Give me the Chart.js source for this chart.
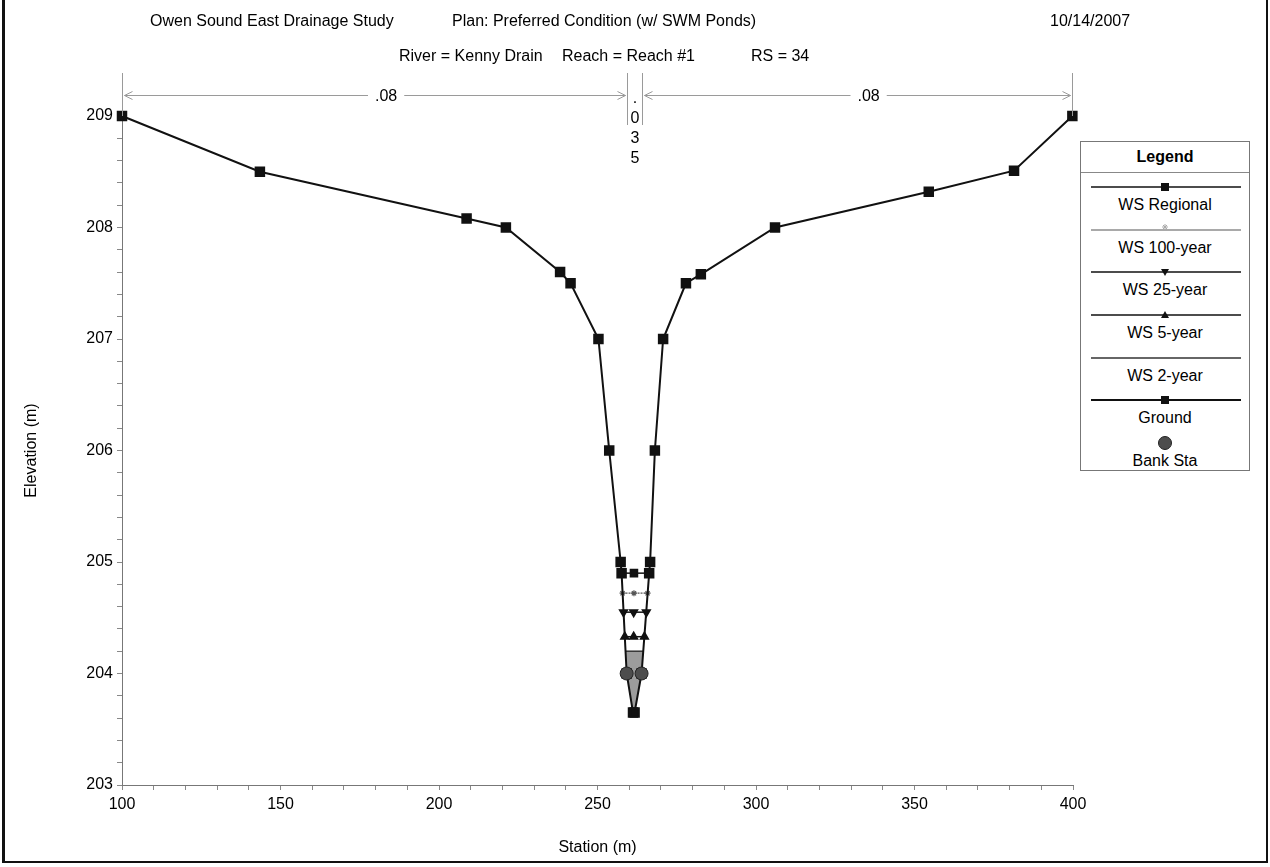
<!DOCTYPE html>
<html>
<head>
<meta charset="utf-8">
<title>Kenny Drain RS 34</title>
<script src="https://cdn.jsdelivr.net/npm/chart.js@4.4.1/dist/chart.umd.min.js"></script>
<style>
  html, body { margin: 0; padding: 0; background: #fff; }
  body { font-family: "Liberation Sans", Arial, sans-serif; color: #000; }
  #wrap { position: relative; width: 1270px; height: 867px; overflow: hidden; }
  #chart { position: absolute; left: 0; top: 0; }
  .frame { position: absolute; left: 2px; top: -4px; width: 1261px; height: 865px;
           border-left: 3px solid #111; border-right: 2px solid #111; border-bottom: 2px solid #111; }
  .t { position: absolute; font-size: 16px; line-height: 18px; white-space: pre; }
  #legend { position: absolute; left: 1080px; top: 141px; width: 168px; height: 328px;
            border: 1px solid #777; background: #fff; }
  #legend .head { height: 30px; line-height: 30px; text-align: center; font-weight: bold;
                  font-size: 16px; border-bottom: 1px solid #888; }
  #legend .item { position: relative; height: 42.7px; }
  #legend svg { position: absolute; left: 0; top: 4px; }
  #legend .lbl { position: absolute; left: 0; width: 168px; top: 23px; line-height: 18px;
                 text-align: center; font-size: 16px; }
</style>
</head>
<body>
<div id="wrap">
  <canvas id="chart" width="1270" height="867"></canvas>
  <div class="t" style="left:150px; top:12px">Owen Sound East Drainage Study</div>
  <div class="t" style="left:452px; top:12px">Plan: Preferred Condition (w/ SWM Ponds)</div>
  <div class="t" style="left:1050px; top:12px">10/14/2007</div>
  <div class="t" style="left:399px; top:47px">River = Kenny Drain</div>
  <div class="t" style="left:562px; top:47px">Reach = Reach #1</div>
  <div class="t" style="left:751px; top:47px">RS = 34</div>
  <div id="legend"><div class="head">Legend</div></div>
  <div class="frame"></div>
</div>
<script>
// Cross section RS 34, Kenny Drain
const groundSta  = [100, 143.5, 208.7, 221.1, 238.2, 241.5, 250.3, 253.7, 257.3, 257.6, 259.2, 261.2,
                    261.7, 263.9, 266.3, 266.6, 268.1, 270.7, 277.9, 282.6, 306.0, 354.5, 381.4, 399.8];
const groundElev = [209.0, 208.5, 208.08, 208.0, 207.6, 207.5, 207.0, 206.0, 205.0, 204.9, 204.0, 203.65,
                    203.65, 204.0, 204.9, 205.0, 206.0, 207.0, 207.5, 207.58, 208.0, 208.32, 208.51, 209.0];

const bankSta  = [259.2, 263.9];
const bankElev = [204.0, 204.0];

// water surface profiles
const wsNames    = ['WS Regional', 'WS 100-year', 'WS 25-year', 'WS 5-year', 'WS 2-year'];
const wsElev     = [204.9, 204.72, 204.55, 204.33, 204.2];
const wsLeftSta  = [257.6, 257.9, 258.2, 258.6, 258.8];
const wsMidSta   = [261.5, 261.5, 261.4, 261.4, 261.5];
const wsRightSta = [266.2, 265.8, 265.4, 264.8, 264.4];

// Manning's n regions
const nStations = [100, 259.2, 263.9, 399.8];
const nValues   = ['.08', '.035', '.08'];

// tick labels
const stationLabels = [100, 150, 200, 250, 300, 350, 400];
const elevLabels    = [203, 204, 205, 206, 207, 208, 209];

const FONT = '"Liberation Sans", Arial, sans-serif';

const wsStyle = [
  { color: '#111', point: 'rect',     radius: 5,   rotation: 0,   dash: [],     width: 1.5 },
  { color: '#555', point: 'star',     radius: 3,   rotation: 0,   dash: [2, 1], width: 1.2 },
  { color: '#111', point: 'triangle', radius: 4.5, rotation: 180, dash: [],     width: 1.5 },
  { color: '#111', point: 'triangle', radius: 4.5, rotation: 0,   dash: [],     width: 1.5 },
  { color: '#333', point: false,      radius: 0,   rotation: 0,   dash: [],     width: 1.5 }
];

const datasets = [];

// bank stations on top
datasets.push({
  label: 'Bank Sta',
  data: bankSta.map((x, i) => ({ x: x, y: bankElev[i] })),
  showLine: false,
  pointStyle: 'circle',
  pointRadius: 6.5,
  pointBackgroundColor: '#4d4d4d',
  pointBorderColor: '#222',
  pointBorderWidth: 1,
  order: 0
});

datasets.push({
  label: 'Ground',
  data: groundSta.map((x, i) => ({ x: x, y: groundElev[i] })),
  borderColor: '#111',
  borderWidth: 2,
  pointStyle: 'rect',
  pointRadius: 6,
  pointBackgroundColor: '#111',
  pointBorderColor: '#111',
  order: 1
});

wsNames.forEach((name, i) => {
  const s = wsStyle[i];
  datasets.push({
    label: name,
    data: [
      { x: wsLeftSta[i], y: wsElev[i] },
      { x: wsMidSta[i], y: wsElev[i] },
      { x: wsRightSta[i], y: wsElev[i] }
    ],
    borderColor: s.color,
    borderWidth: s.width,
    borderDash: s.dash,
    pointStyle: s.point,
    pointRadius: s.radius,
    pointRotation: s.rotation,
    pointBackgroundColor: s.color,
    pointBorderColor: s.color,
    order: 2 + i
  });
});

// gray water fill below the lowest profile
const last = wsNames.length - 1;
const fillPts = [{ x: wsLeftSta[last], y: wsElev[last] }, { x: wsRightSta[last], y: wsElev[last] }];
for (let i = groundSta.length - 1; i >= 0; i--) {
  if (groundSta[i] > wsLeftSta[last] && groundSta[i] < wsRightSta[last]) {
    fillPts.push({ x: groundSta[i], y: groundElev[i] });
  }
}
fillPts.push({ x: wsLeftSta[last], y: wsElev[last] });
datasets.push({
  label: 'fill',
  data: fillPts,
  borderWidth: 0,
  borderColor: 'rgba(0,0,0,0)',
  backgroundColor: '#9c9c9c',
  fill: 'shape',
  pointRadius: 0,
  order: 20
});

// n value annotation above the plot
const nValuePlugin = {
  id: 'nValues',
  afterDraw(chart) {
    const ctx = chart.ctx;
    const x = chart.scales.x;
    const area = chart.chartArea;
    const px = nStations.map(s => Math.round(x.getPixelForValue(s)) + 0.5);
    const top = 73, arrowY = 95.5;
    ctx.save();
    ctx.strokeStyle = '#9a9a9a';
    ctx.lineWidth = 1;
    px.forEach((p, i) => {
      const inner = i > 0 && i < px.length - 1;
      ctx.beginPath();
      ctx.moveTo(p, top);
      ctx.lineTo(p, inner ? 125 : area.top);
      ctx.stroke();
    });
    ctx.font = '16px ' + FONT;
    ctx.fillStyle = '#000';
    ctx.textBaseline = 'middle';
    nValues.forEach((v, i) => {
      const a = px[i], b = px[i + 1], mid = (a + b) / 2;
      if (b - a > 60) {
        // label starts at the middle of the region
        const tw = ctx.measureText(v).width;
        ctx.beginPath();
        ctx.moveTo(a + 2, arrowY); ctx.lineTo(mid - 7, arrowY);
        ctx.moveTo(mid + tw + 7, arrowY); ctx.lineTo(b - 2, arrowY);
        ctx.moveTo(a + 10, arrowY - 4); ctx.lineTo(a + 2, arrowY); ctx.lineTo(a + 10, arrowY + 4);
        ctx.moveTo(b - 10, arrowY - 4); ctx.lineTo(b - 2, arrowY); ctx.lineTo(b - 10, arrowY + 4);
        ctx.stroke();
        ctx.textAlign = 'left';
        ctx.fillText(v, mid, arrowY + 1);
      } else {
        ctx.textAlign = 'center';
        v.split('').forEach((c, k) => ctx.fillText(c, mid, 99 + k * 20));
      }
    });
    ctx.restore();
  }
};

new Chart(document.getElementById('chart'), {
  type: 'line',
  data: { datasets: datasets },
  options: {
    responsive: false,
    animation: false,
    devicePixelRatio: 1,
    datasets: { line: { clip: false } },
    layout: { padding: { left: 10, right: 197, top: 116, bottom: 8 } },
    plugins: {
      legend: { display: false },
      tooltip: { enabled: false }
    },
    scales: {
      x: {
        type: 'linear',
        min: 100,
        max: 400,
        afterFit: s => { s.height = 74; },
        ticks: {
          stepSize: 10,
          autoSkip: false,
          maxRotation: 0,
          padding: 5,
          color: '#000',
          font: { size: 16, family: FONT },
          callback: v => stationLabels.includes(Math.round(v)) && Math.abs(v - Math.round(v)) < 1e-6 ? String(Math.round(v)) : ''
        },
        grid: { drawOnChartArea: false, tickLength: 5, color: '#888' },
        border: { color: '#777', width: 1 },
        title: { display: true, text: 'Station (m)', color: '#000',
                 font: { size: 16, family: FONT }, padding: { top: 0, bottom: 2 } }
      },
      y: {
        type: 'linear',
        min: 203,
        max: 209,
        afterFit: s => { s.width = 112; },
        ticks: {
          stepSize: 0.2,
          autoSkip: false,
          padding: 4,
          color: '#000',
          font: { size: 16, family: FONT },
          callback: v => Math.abs(v - Math.round(v)) < 1e-6 && elevLabels.includes(Math.round(v)) ? String(Math.round(v)) : ''
        },
        grid: { drawOnChartArea: false, tickLength: 5, color: '#888' },
        border: { color: '#777', width: 1 },
        title: { display: true, text: 'Elevation (m)', color: '#000',
                 font: { size: 16, family: FONT }, padding: { top: 12, bottom: 0 } }
      }
    }
  },
  plugins: [nValuePlugin]
});

// legend: line with marker above each label
function markerSvg(ds) {
  const w = 168, cy = 10, cx = 84;
  let s = '<svg width="' + w + '" height="20" xmlns="http://www.w3.org/2000/svg">';
  if (ds.showLine !== false) {
    s += '<line x1="10" y1="' + cy + '" x2="160" y2="' + cy + '" stroke="' + ds.borderColor +
         '" stroke-width="' + ds.borderWidth + '"/>';
  }
  const c = ds.pointBackgroundColor;
  if (ds.pointStyle === 'rect') {
    s += '<rect x="' + (cx - 4) + '" y="' + (cy - 4) + '" width="8" height="8" fill="' + c + '"/>';
  } else if (ds.pointStyle === 'triangle') {
    const up = ds.pointRotation !== 180;
    s += up ? '<polygon points="' + (cx - 4) + ',' + (cy + 3) + ' ' + (cx + 4) + ',' + (cy + 3) + ' ' + cx + ',' + (cy - 4) + '" fill="' + c + '"/>'
            : '<polygon points="' + (cx - 4) + ',' + (cy - 3) + ' ' + (cx + 4) + ',' + (cy - 3) + ' ' + cx + ',' + (cy + 4) + '" fill="' + c + '"/>';
  } else if (ds.pointStyle === 'star') {
    s += '<path d="M' + (cx - 3) + ' ' + (cy - 3) + 'H' + (cx + 3) + 'M' + cx + ' ' + (cy - 6) + 'V' + cy +
         'M' + (cx - 2) + ' ' + (cy - 5) + 'L' + (cx + 2) + ' ' + (cy - 1) + 'M' + (cx + 2) + ' ' + (cy - 5) +
         'L' + (cx - 2) + ' ' + (cy - 1) + '" stroke="#aaa" stroke-width="1"/>';
  } else if (ds.pointStyle === 'circle') {
    s += '<circle cx="' + cx + '" cy="' + cy + '" r="6.5" fill="' + c + '" stroke="#222"/>';
  }
  return s + '</svg>';
}

const legendOrder = wsNames.concat(['Ground', 'Bank Sta']);
const legendEl = document.getElementById('legend');
legendOrder.forEach(name => {
  const ds = datasets.find(d => d.label === name);
  const item = document.createElement('div');
  item.className = 'item';
  item.innerHTML = markerSvg(ds) + '<div class="lbl">' + name + '</div>';
  legendEl.appendChild(item);
});
</script>
</body>
</html>
